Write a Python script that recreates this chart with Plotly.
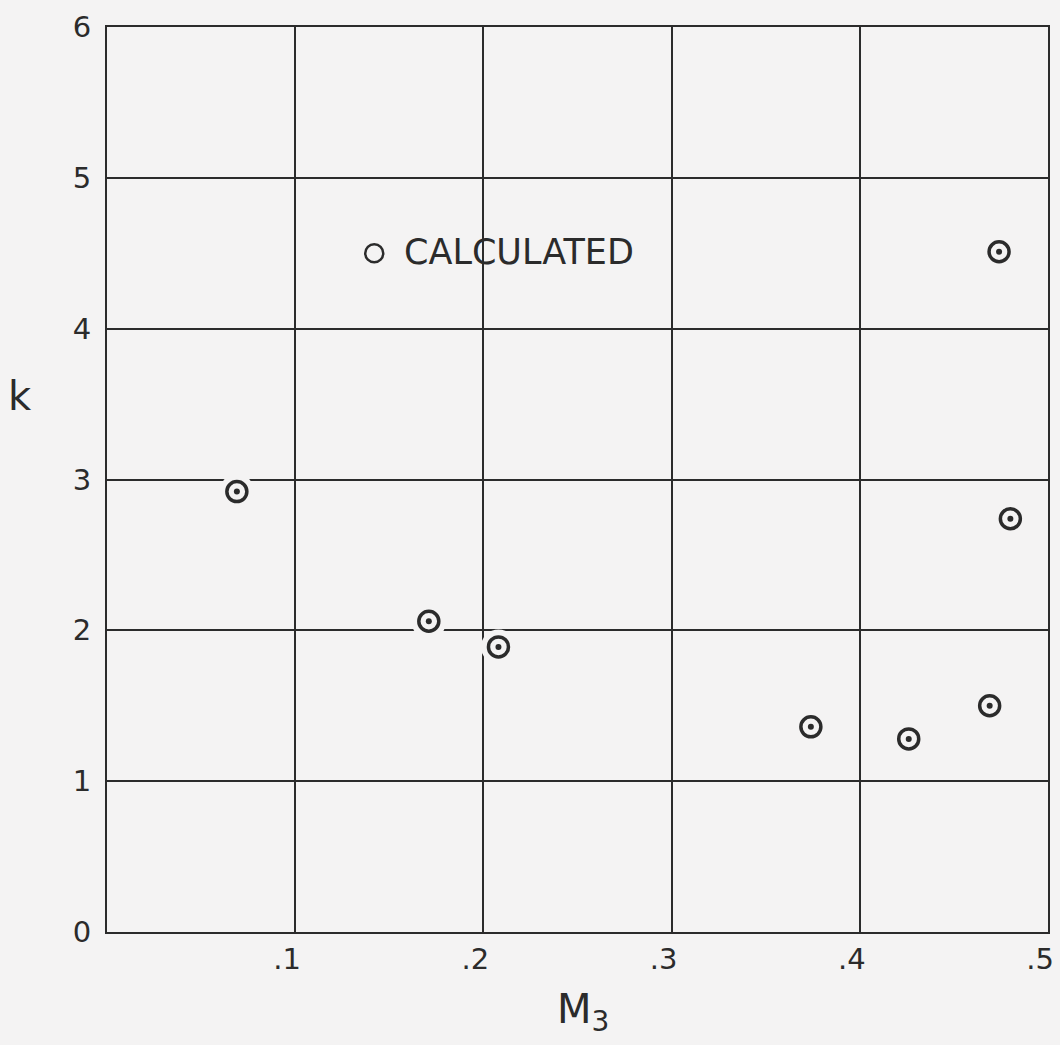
import plotly.graph_objects as go

# Calculated points: Mach number M3 versus k
m3_values = [0.069, 0.171, 0.208, 0.374, 0.426, 0.469, 0.474, 0.480]
k_values = [2.92, 2.06, 1.89, 1.36, 1.28, 1.50, 4.51, 2.74]

x_tick_vals = [0.1, 0.2, 0.3, 0.4, 0.5]
x_tick_text = [".1", ".2", ".3", ".4", ".5"]
y_tick_vals = [0, 1, 2, 3, 4, 5, 6]
y_tick_text = ["0", "1", "2", "3", "4", "5", "6"]

# Position of the symbol key inside the plot (data units)
key_x, key_y = 0.142, 4.50
key_label = "CALCULATED"

paper = "#f4f3f3"
ink = "#2b2b2b"
font_family = "DejaVu Sans, Liberation Sans, sans-serif"

fig = go.Figure()

# Paper-coloured halo so grid lines break around each symbol
fig.add_trace(go.Scatter(
    x=m3_values, y=k_values, mode="markers",
    marker=dict(symbol="circle", size=35, color=paper, line=dict(width=0)),
    hoverinfo="skip", showlegend=False,
))

# Open circles with a solid centre dot
fig.add_trace(go.Scatter(
    x=m3_values, y=k_values, mode="markers", name=key_label,
    marker=dict(symbol="circle-open", size=20, color=ink,
                line=dict(width=3.5, color=ink)),
    showlegend=False,
))
fig.add_trace(go.Scatter(
    x=m3_values, y=k_values, mode="markers",
    marker=dict(symbol="circle", size=6, color=ink, line=dict(width=0)),
    hoverinfo="skip", showlegend=False,
))

# Key: open circle followed by its label
fig.add_trace(go.Scatter(
    x=[key_x], y=[key_y], mode="markers",
    marker=dict(symbol="circle-open", size=18, color=ink,
                line=dict(width=2.5, color=ink)),
    hoverinfo="skip", showlegend=False,
))
fig.add_annotation(
    x=key_x + 0.0155, y=key_y + 0.01, xref="x", yref="y",
    xanchor="left", yanchor="middle",
    text=key_label, showarrow=False, borderpad=0,
    font=dict(family=font_family, size=35, color=ink),
)

axis_common = dict(
    showline=True, linecolor=ink, linewidth=2, mirror=True,
    showgrid=True, gridcolor=ink, gridwidth=2,
    zeroline=False, ticks="", automargin=False,
    ticklabeloverflow="allow",
    tickfont=dict(family=font_family, size=29, color=ink),
)

fig.update_xaxes(
    range=[0, 0.5], tickvals=x_tick_vals, ticktext=x_tick_text,
    ticklabelstandoff=0, ticklabelshift=-8,
    **axis_common,
)
fig.update_yaxes(
    range=[0, 6], tickvals=y_tick_vals, ticktext=y_tick_text,
    ticklabelstandoff=8,
    **axis_common,
)

# Axis titles
fig.add_annotation(
    x=0.506, y=-0.088, xref="paper", yref="paper",
    xanchor="center", yanchor="middle",
    text="M<sub>3</sub>", showarrow=False,
    font=dict(family=font_family, size=40, color=ink),
)
fig.add_annotation(
    x=-0.0925, y=0.592, xref="paper", yref="paper",
    xanchor="center", yanchor="middle",
    text="k", showarrow=False,
    font=dict(family=font_family, size=40, color=ink),
)

fig.update_layout(
    width=1060, height=1045,
    margin=dict(l=107, r=12, t=27, b=113),
    paper_bgcolor=paper, plot_bgcolor=paper,
    font=dict(family=font_family, color=ink),
)

fig.write_html("out.html")
